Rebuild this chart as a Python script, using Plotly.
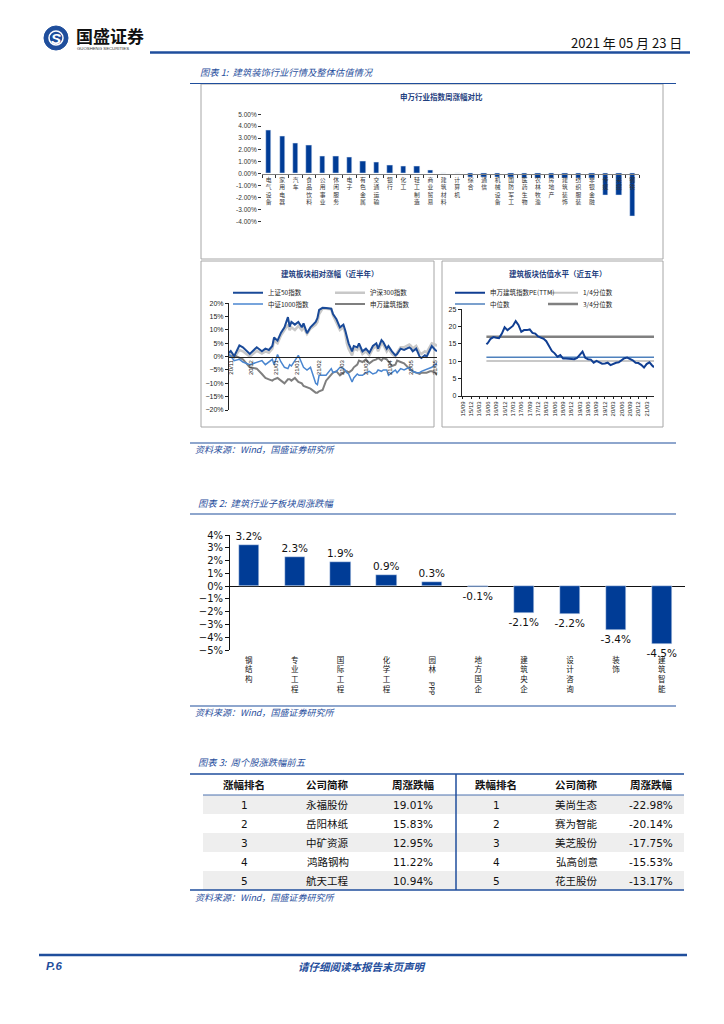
import plotly.graph_objects as go

W, H = 724, 1024


def px(x):
    return x / W


def py(y):
    return 1 - y / H


BLUE = "#1f4e9c"
BAR = "#003c96"
CJK = "Noto Sans CJK SC"
LAT = "DejaVu Sans"
ARL = "Liberation Sans"

# ---------------- data ----------------
# Figure 1a: Shenwan industry weekly change (%)
sw_inds = ["电气设备", "家用电器", "汽车", "食品饮料", "公用事业", "休闲服务", "电子", "有色金属",
           "交通运输", "银行", "化工", "轻工制造", "商业贸易", "建筑材料", "计算机", "综合", "通信",
           "机械设备", "国防军工", "医药生物", "农林牧渔", "房地产", "建筑装饰", "纺织服装", "非银金融",
           "传媒", "采掘", "钢铁"]
sw_chg = [3.68, 3.12, 2.56, 2.39, 1.50, 1.48, 1.38, 1.07, 0.93, 0.74, 0.65, 0.63, 0.32, 0.02, 0.01,
          -0.30, -0.31, -0.33, -0.34, -0.35, -0.35, -0.36, -0.37, -0.38, -0.40, -1.78, -1.84, -3.60]
sw_ticks = ["5.00%", "4.00%", "3.00%", "2.00%", "1.00%", "0.00%", "-1.00%", "-2.00%", "-3.00%", "-4.00%"]

# Figure 1b: relative performance, last half year (trading-day index)
rel_days = [0, 1, 3, 6, 8, 12, 16, 19, 21, 23, 25, 26, 28, 30, 32, 34, 35, 36, 38, 40, 42, 43, 45, 47,
            50, 51, 52, 54, 56, 59, 60, 62, 64, 66, 67, 68, 69, 71, 72, 74, 75, 77, 79, 81, 83, 85, 86,
            88, 89, 91, 92, 94, 96, 97, 99, 101, 104, 105, 106, 108, 110, 111, 113, 114, 116, 117, 119, 120]
sz50 = [1.5, 2.1, 0.2, 4.2, 3.5, 1.0, 3.5, 2.0, 3.0, 2.5, 4.0, 7.2, 6.0, 9.0, 11.0, 14.8, 11.2, 13.0,
        12.0, 13.0, 11.0, 12.5, 8.8, 11.0, 13.0, 14.4, 17.5, 18.3, 18.2, 18.0, 16.0, 14.0, 11.0, 12.0,
        10.0, 7.0, 5.0, 2.0, 4.0, 3.5, 5.0, 2.0, 3.0, 1.5, 4.0, 5.0, 3.0, 6.2, 5.5, 3.0, 4.0, 2.0, 0.5,
        1.0, 3.0, 2.5, 3.5, 3.0, 2.0, 3.0, 0.0, -0.5, 0.5, 0.0, 3.0, 4.0, 2.5, 2.0]
hs300 = [1.0, 1.2, -0.3, 2.5, 2.0, 0.0, 2.2, 1.2, 2.0, 1.5, 3.0, 6.0, 5.0, 8.0, 10.0, 12.0, 10.0, 11.0,
         10.0, 11.5, 10.0, 11.0, 8.5, 10.5, 12.0, 13.0, 16.0, 18.0, 18.0, 17.8, 15.5, 13.0, 10.0, 11.0,
         9.0, 5.0, 3.0, 0.5, 3.0, 2.5, 4.0, 1.0, 2.0, 0.5, 3.0, 4.0, 2.0, 5.0, 4.5, 2.0, 3.0, 1.0, 0.0,
         1.5, 3.5, 3.5, 4.5, 4.0, 3.0, 4.0, 1.5, 1.0, 2.0, 1.5, 4.0, 5.0, 4.5, 4.0]
zz1000 = [1.0, 0.0, -1.5, -1.0, -2.0, -3.0, -2.0, -1.5, -3.0, -2.0, -1.0, -3.0, 0.8, -2.0, -4.0, -4.5,
          -3.0, -3.5, -1.5, 0.5, -2.5, -4.0, -5.0, -4.0, -10.0, -10.5, -7.0, -7.0, -7.0, -4.5, -6.0,
          -5.5, -4.0, -4.5, -5.0, -6.0, -6.5, -9.5, -8.0, -6.5, -7.0, -7.0, -6.0, -5.5, -6.5, -6.0, -5.0,
          -5.5, -5.0, -5.0, -7.0, -6.0, -5.0, -6.0, -4.5, -5.0, -4.0, -5.0, -5.5, -6.0, -6.0, -5.5, -5.0,
          -5.0, -4.5, -4.0, -3.0, -2.5]
swjz = [0.5, 0.0, 0.5, -0.3, -1.0, -4.0, -4.5, -6.5, -8.0, -8.5, -9.0, -8.5, -8.0, -9.0, -10.0, -8.5,
        -8.5, -9.0, -8.0, -9.5, -10.0, -11.0, -11.5, -12.0, -13.5, -13.5, -13.0, -12.5, -9.0, -6.5, -6.0,
        -5.5, -7.0, -6.0, -5.5, -5.5, -6.0, -5.0, -4.0, -3.0, -1.5, -2.0, -1.0, -2.5, -1.5, -1.0, -0.5,
        -1.5, -0.5, -1.0, -2.0, -3.5, -3.0, -1.5, -2.0, -2.5, -4.5, -5.0, -5.5, -6.0, -6.5, -6.0, -6.0,
        -6.0, -5.5, -5.5, -6.0, -7.0]
rel_tickvals = [1, 13, 27, 39, 52, 65, 79, 93, 105, 119]
rel_ticktext = ["20/11", "20/12", "21/01", "21/01", "21/02", "21/03", "21/03", "21/04", "21/05", "21/05"]

# Figure 1c: valuation (PE TTM), last five years
pe_dates = ["2016-05-16"] + [f"{y}-{m:02d}-01" for y in range(2016, 2022) for m in range(1, 13)
                             if (2016, 6) <= (y, m) <= (2021, 5)] + ["2021-05-21"]
pe_vals = [14.9,
           15.3, 16.5, 17.0, 16.8, 16.7, 18.0, 19.8,
           19.0, 19.5, 20.2, 21.6, 20.5, 18.5, 19.0, 19.0, 19.2, 18.2, 18.0, 17.2,
           16.8, 16.5, 15.8, 14.5, 13.0, 12.3, 11.3, 11.8, 10.8, 10.8, 10.8, 10.7,
           10.6, 11.0, 12.0, 12.8, 11.0, 10.6, 10.5, 9.6, 10.1, 9.8, 9.3, 9.4,
           9.6, 8.9, 9.3, 9.6, 9.7, 10.3, 10.9, 11.1, 10.8, 10.3, 9.6, 9.5,
           9.0, 8.2, 9.2, 9.7, 8.8,
           8.3]
q_dates = ["2016-05-16", "2021-05-21"]
pe_q25 = [10.1, 10.1]
pe_med = [11.2, 11.2]
pe_q75 = [17.1, 17.1]

# Figure 2: construction sub-sectors weekly change (%)
sub_names = ["钢结构", "专业工程", "国际工程", "化学工程", "园林PPP", "地方国企", "建筑央企", "设计咨询", "装饰", "建筑智能"]
sub_chg = [3.2, 2.3, 1.9, 0.9, 0.3, -0.1, -2.1, -2.2, -3.4, -4.5]

# Figure 3: top five gainers / losers
up_rank = ["1", "2", "3", "4", "5"]
up_names = ["永福股份", "岳阳林纸", "中矿资源", "鸿路钢构", "航天工程"]
up_pct = ["19.01%", "15.83%", "12.95%", "11.22%", "10.94%"]
dn_rank = ["1", "2", "3", "4", "5"]
dn_names = ["美尚生态", "赛为智能", "美芝股份", "弘高创意", "花王股份"]
dn_pct = ["-22.98%", "-20.14%", "-17.75%", "-15.53%", "-13.17%"]
tbl_header = ["涨幅排名", "公司简称", "周涨跌幅", "跌幅排名", "公司简称", "周涨跌幅"]


def stack(s):
    return "<br>".join(s)


fig = go.Figure()

# ---- Figure 1a bars
fig.add_trace(go.Bar(x=sw_inds, y=sw_chg, marker_color=BAR, width=0.4,
                     xaxis="x", yaxis="y", showlegend=False, hoverinfo="skip"))

# ---- Figure 1b lines
rel_series = [
    ("沪深300指数", hs300, "#c8c8c8", 2.6, "legend2"),
    ("申万建筑指数", swjz, "#7f7f7f", 2.0, "legend4"),
    ("中证1000指数", zz1000, "#4a86d0", 1.5, "legend3"),
    ("上证50指数", sz50, "#1a4a98", 2.0, "legend"),
]
for name, vals, col, lw, lg in rel_series:
    fig.add_trace(go.Scatter(x=rel_days, y=vals, mode="lines", name=name,
                             line=dict(color=col, width=lw), xaxis="x2", yaxis="y2",
                             legend=lg, hoverinfo="skip"))

# ---- Figure 1c valuation
fig.add_trace(go.Scatter(x=q_dates, y=pe_q75, mode="lines", name="3/4分位数",
                         line=dict(color="#808080", width=2.5), xaxis="x3", yaxis="y3", legend="legend8"))
fig.add_trace(go.Scatter(x=q_dates, y=pe_q25, mode="lines", name="1/4分位数",
                         line=dict(color="#c8c8c8", width=2), xaxis="x3", yaxis="y3", legend="legend6"))
fig.add_trace(go.Scatter(x=q_dates, y=pe_med, mode="lines", name="中位数",
                         line=dict(color="#4f81bd", width=1.5), xaxis="x3", yaxis="y3", legend="legend7"))
fig.add_trace(go.Scatter(x=pe_dates, y=pe_vals, mode="lines", name="申万建筑指数PE(TTM)",
                         line=dict(color="#103e92", width=2), xaxis="x3", yaxis="y3", legend="legend5"))

# ---- Figure 2 bars
fig.add_trace(go.Bar(x=sub_names, y=sub_chg, marker_color=BAR, width=0.44,
                     text=[f"{v:.1f}%" for v in sub_chg], textposition="outside",
                     constraintext="none",
                     textfont=dict(family=LAT, size=10.5, color="#111"), cliponaxis=False,
                     xaxis="x4", yaxis="y4", showlegend=False, hoverinfo="skip"))

# ---------------- axes ----------------
axis_common = dict(showgrid=False, zeroline=False, fixedrange=True, automargin=False)
fig.update_layout(
    xaxis=dict(axis_common, domain=[px(262), px(639)], range=[-0.5, 27.5], anchor="free",
               position=py(173.8), showline=True, linecolor="#7f7f7f", linewidth=1,
               ticks="outside", ticklen=3, tickcolor="#333", tickson="boundaries",
               tickvals=sw_inds, ticktext=[stack(s) for s in sw_inds],
               tickfont=dict(family=CJK, size=5.8, color="#333"), tickangle=0),
    yaxis=dict(axis_common, domain=[py(221.3), py(114.3)], range=[-4, 5], anchor="x",
               tickvals=[5, 4, 3, 2, 1, 0, -1, -2, -3, -4], ticktext=sw_ticks,
               ticks="outside", ticklen=3, tickcolor="#333", showline=False,
               tickfont=dict(family=ARL, size=6.5, color="#333")),
    xaxis2=dict(axis_common, domain=[px(229), px(437)], range=[0, 120], anchor="free",
                position=py(356.7), showline=True, linecolor="#222", linewidth=1,
                tickvals=rel_tickvals, ticktext=rel_ticktext, tickangle=-90, ticks="",
                tickfont=dict(family=ARL, size=6, color="#222")),
    yaxis2=dict(axis_common, domain=[py(410), py(303.3)], range=[-20, 20], anchor="x2",
                dtick=5, ticksuffix="%", showline=True, linecolor="#222", linewidth=1,
                ticks="outside", ticklen=3, tickcolor="#222",
                tickfont=dict(family=ARL, size=7, color="#222")),
    xaxis3=dict(axis_common, type="date", domain=[px(461.7), px(654)],
                range=["2015-08-20", "2021-05-21"], anchor="y3", tick0="2015-09-01", dtick="M3",
                tickformat="%y/%m", tickangle=-90, showline=True, linecolor="#222", linewidth=1,
                ticks="outside", ticklen=2, tickcolor="#222",
                tickfont=dict(family=ARL, size=6, color="#222")),
    yaxis3=dict(axis_common, domain=[py(396), py(309.3)], range=[0, 25], anchor="x3", dtick=5,
                showline=True, linecolor="#222", linewidth=1, ticks="outside", ticklen=3,
                tickcolor="#222", tickfont=dict(family=ARL, size=7, color="#222")),
    xaxis4=dict(axis_common, domain=[px(230), px(684.7)], range=[-0.41, 9.5], anchor="y4",
                showline=False, ticks="", tickvals=sub_names, ticklabelstandoff=4,
                ticktext=[stack(s) if s != "园林PPP" else stack("园林") for s in sub_names],
                tickfont=dict(family=CJK, size=7.5, color="#111"), tickangle=0),
    yaxis4=dict(axis_common, domain=[py(650), py(535)], range=[-5, 4], anchor="x4", dtick=1,
                ticksuffix="%", showline=True, linecolor="#111", linewidth=1, ticks="outside",
                ticklen=4, tickcolor="#111", zeroline=True, zerolinecolor="#111", zerolinewidth=1,
                tickfont=dict(family=LAT, size=10, color="#111")),
)


# ---------------- legends ----------------
def lg(x, y):
    return dict(x=px(x), y=py(y), xanchor="left", yanchor="middle", xref="paper", yref="paper",
                bgcolor="rgba(0,0,0,0)", borderwidth=0, itemwidth=30,
                font=dict(family=CJK, size=6.5, color="#222"), orientation="v")


fig.update_layout(
    showlegend=True,
    legend=lg(228, 292.7), legend2=lg(330, 292.7), legend3=lg(228, 304), legend4=lg(330, 304),
    legend5=lg(450, 292.7), legend6=lg(543, 292.7), legend7=lg(450, 304), legend8=lg(543, 304),
)

# ---------------- shapes ----------------
shapes = []


def hline(x0, x1, y, w=1.2, c=BLUE):
    shapes.append(dict(type="line", xref="paper", yref="paper", x0=px(x0), x1=px(x1),
                       y0=py(y), y1=py(y), line=dict(color=c, width=w)))


def box(x0, y0, x1, y1, line="#a6a6a6", fill="rgba(0,0,0,0)", w=1):
    shapes.append(dict(type="rect", xref="paper", yref="paper", x0=px(x0), x1=px(x1),
                       y0=py(y1), y1=py(y0), line=dict(color=line, width=w), fillcolor=fill,
                       layer="below"))


hline(150, 690, 52.5, 2.5)
hline(190, 676, 83.5, 1.2)
box(201, 84, 663, 259)
box(201, 261, 434, 427)
box(442, 261, 663, 427)
hline(190, 676, 443, 1.2)
hline(190, 676, 514, 1.2)
hline(190, 676, 706, 1.2)

# table layout (figure 3)
T_X0, T_X1, T_TOP, T_HEAD, T_ROW = 203, 684, 774, 21, 19
col_w = [82, 85, 85, 83, 77, 72]
col_c = []
acc = T_X0
for w_ in col_w:
    col_c.append(acc + w_ / 2)
    acc += w_
for i in range(len(up_names)):
    y0 = T_TOP + T_HEAD + i * T_ROW
    if i % 2 == 0:
        box(T_X0, y0, T_X1, y0 + T_ROW, line="rgba(0,0,0,0)", fill="#eeeeee", w=0)
hline(190, 684, T_TOP, 1.5)
hline(T_X0, 684, T_TOP + T_HEAD, 0.8)
hline(190, 684, T_TOP + T_HEAD + 5 * T_ROW, 1.5)
shapes.append(dict(type="line", xref="paper", yref="paper", x0=px(456), x1=px(456), y0=py(T_TOP),
                   y1=py(T_TOP + T_HEAD + 5 * T_ROW), line=dict(color=BLUE, width=1.5)))
hline(39, 687, 955, 2.5)
# logo
shapes.append(dict(type="circle", xref="paper", yref="paper", x0=px(44), x1=px(68), y0=py(50),
                   y1=py(26), fillcolor=BLUE, line=dict(color=BLUE, width=1)))
shapes.append(dict(type="circle", xref="paper", yref="paper", x0=px(49), x1=px(63), y0=py(45),
                   y1=py(31), fillcolor="rgba(0,0,0,0)", line=dict(color="white", width=1.5)))
fig.update_layout(shapes=shapes)

# ---------------- annotations ----------------
ann = []


def text(x, y, s, size=9, color=BLUE, anchor="left", family=CJK, **kw):
    ann.append(dict(x=px(x), y=py(y), xref="paper", yref="paper", text=s, showarrow=False,
                    xanchor=anchor, yanchor="middle", font=dict(family=family, size=size, color=color), **kw))


text(56, 38, "<b><i>S</i></b>", size=15, color="white", anchor="center", family=ARL)
text(74, 35, "<b>国盛证券</b>", size=17, color="#111")
text(75, 48, "GUOSHENG SECURITIES", size=4.3, color="#333", family=ARL)
text(684, 42, "2021 年 05 月 23 日", size=13, color="#111", anchor="right")

text(198, 72, "<i>图表 1:  建筑装饰行业行情及整体估值情况</i>", size=9.3)
text(441.7, 96.7, "<b>申万行业指数周涨幅对比</b>", size=7.5, color="#1f3f7f", anchor="center")
text(330, 273, "<b>建筑板块相对涨幅（近半年）</b>", size=7.5, color="#1f3f7f", anchor="center")
text(558, 273, "<b>建筑板块估值水平（近五年）</b>", size=7.5, color="#1f3f7f", anchor="center")
text(193, 449, "<i>资料来源：Wind，国盛证券研究所</i>", size=9)
text(196, 503, "<i>图表 2:  建筑行业子板块周涨跌幅</i>", size=9.3)
text(193, 712, "<i>资料来源：Wind，国盛证券研究所</i>", size=9)
text(196, 762, "<i>图表 3:  周个股涨跌幅前五</i>", size=9.3)
text(193, 897, "<i>资料来源：Wind，国盛证券研究所</i>", size=9)
text(44, 966, "<b><i>P.6</i></b>", size=11.5, family=ARL)
text(362, 966, "<b><i>请仔细阅读本报告末页声明</i></b>", size=10.5, anchor="center")

# table text
for j, h in enumerate(tbl_header):
    text(col_c[j], T_TOP + T_HEAD / 2, f"<b>{h}</b>", size=10.5, color="#111", anchor="center")
table_cols = [up_rank, up_names, up_pct, dn_rank, dn_names, dn_pct]
col_fonts = [LAT, CJK, LAT, LAT, CJK, LAT]
for j, col in enumerate(table_cols):
    for i, v in enumerate(col):
        text(col_c[j], T_TOP + T_HEAD + i * T_ROW + T_ROW / 2, v, size=10.5, color="#111",
             anchor="center", family=col_fonts[j])

# rotated latin part of the 园林PPP category label
ann.append(dict(x="园林PPP", y=-5, xref="x4", yref="y4", text="PPP", showarrow=False, textangle=90,
                xanchor="center", yanchor="top", yshift=-30,
                font=dict(family=LAT, size=7.5, color="#111")))
fig.update_layout(annotations=ann)

fig.update_layout(width=W, height=H, margin=dict(l=0, r=0, t=0, b=0, autoexpand=False),
                  paper_bgcolor="white", plot_bgcolor="rgba(0,0,0,0)", bargap=0)

fig.write_html("out.html", config={"displayModeBar": False},
               post_script="document.body.style.margin='0';")
